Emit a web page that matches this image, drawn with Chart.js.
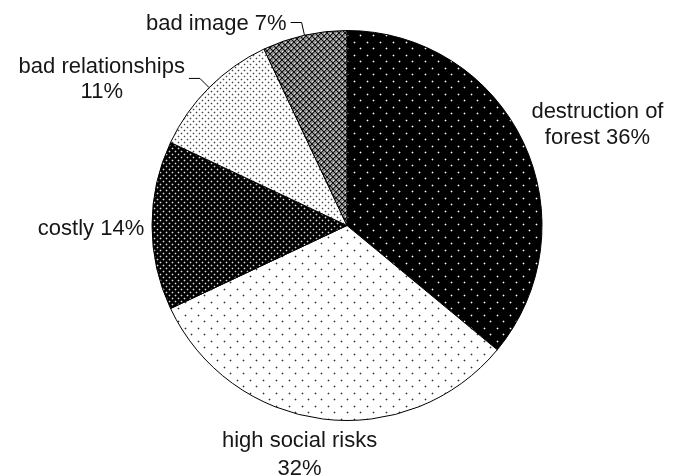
<!DOCTYPE html>
<html>
<head>
<meta charset="utf-8">
<script src="https://cdn.jsdelivr.net/npm/chart.js@4/dist/chart.umd.min.js"></script>
<style>
  html, body { margin: 0; padding: 0; background: #fff; }
  #wrap { width: 678px; height: 476px; }
</style>
</head>
<body>
<div id="wrap"><canvas id="c" width="678" height="476"></canvas></div>
<script>
// Reasons given, share of answers (%)
const categories = ['destruction of forest', 'high social risks', 'costly', 'bad relationships', 'bad image'];
const shares = [36, 32, 14, 11, 7];
// Number of words kept on the first label line (the rest goes to the second line)
const firstLineWords = [2, 3, 2, 2, 3];
// Slices whose label is joined to the pie by a leader line
const leaderSlices = [false, false, false, true, true];

const FONT = '22px "Liberation Sans", Arial, sans-serif';
const TEXT_COLOR = '#161616';

function labelLines(i) {
  const words = (categories[i] + ' ' + shares[i] + '%').split(' ');
  const n = firstLineWords[i];
  const first = words.slice(0, n).join(' ');
  const rest = words.slice(n).join(' ');
  return rest ? [first, rest] : [first];
}

// Tiled fill patterns, one per slice
function tile(w, h, bg, draw) {
  const c = document.createElement('canvas');
  c.width = w; c.height = h;
  const g = c.getContext('2d');
  g.fillStyle = bg;
  g.fillRect(0, 0, w, h);
  draw(g);
  return c;
}
function dot(g, x, y, core, halo) {
  g.fillStyle = halo;
  g.fillRect(x - 1, y, 3, 1);
  g.fillRect(x, y - 1, 1, 3);
  g.fillStyle = core;
  g.fillRect(x, y, 1, 1);
}
const ctx = document.getElementById('c').getContext('2d');
const tiles = [
  // sparse light dots on black
  tile(13, 13, '#000', g => { dot(g, 3, 3, '#fff', '#555'); dot(g, 9, 9, '#fff', '#555'); }),
  // sparse dark dots on white
  tile(13, 13, '#fff', g => { dot(g, 3, 3, '#333', '#bbb'); dot(g, 9, 9, '#333', '#bbb'); }),
  // dense light dots on black
  tile(6, 6, '#000', g => { dot(g, 1, 1, '#ddd', '#444'); dot(g, 4, 4, '#ddd', '#444'); }),
  // dense dark dots on white
  tile(6, 6, '#fff', g => { dot(g, 1, 1, '#444', '#ccc'); dot(g, 4, 4, '#444', '#ccc'); }),
  // grey diamond hatch
  tile(6, 6, '#8a8a8a', g => {
    g.fillStyle = '#111';
    for (let k = 0; k < 6; k++) { g.fillRect(k, k, 1, 1); g.fillRect(5 - k, k, 1, 1); }
    g.fillStyle = '#eee';
    g.fillRect(0, 3, 1, 1); g.fillRect(3, 0, 1, 1);
  })
];
const fills = tiles.map(t => ctx.createPattern(t, 'repeat'));

// Text placement relative to the rim point at each slice's middle angle
// (dx, dy) = offset of the label block centre for slices without a leader line
const labelOffsets = [[74, -19], [-23, 35], [-61, 2], null, null];
const LINE_H = [26, 28, 26, 25.5, 26];

const pieLabels = {
  id: 'pieLabels',
  afterDatasetsDraw(chart) {
    const g = chart.ctx;
    const arcs = chart.getDatasetMeta(0).data;
    g.save();
    g.font = FONT;
    g.fillStyle = TEXT_COLOR;
    g.textAlign = 'center';
    g.textBaseline = 'middle';
    const capMid = 1; // shift so that 'middle' sits on the cap-height centre
    arcs.forEach((arc, i) => {
      const { x, y, outerRadius, startAngle, endAngle } = arc.getProps(['x', 'y', 'outerRadius', 'startAngle', 'endAngle'], true);
      const mid = (startAngle + endAngle) / 2;
      const ux = Math.cos(mid), uy = Math.sin(mid);
      const rimX = x + outerRadius * ux, rimY = y + outerRadius * uy;
      const lines = labelLines(i);
      const lh = LINE_H[i];
      const widths = lines.map(s => g.measureText(s).width);
      const blockW = Math.max(...widths);
      let cx, cy;
      if (leaderSlices[i]) {
        const ex = x + (outerRadius + 13) * ux, ey = y + (outerRadius + 13) * uy;
        const endX = ex - 11;
        g.strokeStyle = '#000';
        g.lineWidth = 1;
        g.beginPath();
        g.moveTo(rimX, rimY);
        g.lineTo(ex, ey);
        g.lineTo(endX, ey);
        g.stroke();
        cx = endX - 4 - blockW / 2;
        cy = ey;
      } else {
        cx = rimX + labelOffsets[i][0];
        cy = rimY + labelOffsets[i][1];
      }
      const top = cy - (lines.length - 1) * lh / 2;
      lines.forEach((s, k) => g.fillText(s, cx, top + k * lh + capMid));
    });
    g.restore();
  }
};

new Chart(ctx, {
  type: 'pie',
  data: {
    labels: categories,
    datasets: [{
      data: shares,
      backgroundColor: fills,
      borderColor: '#000',
      borderWidth: 1
    }]
  },
  options: {
    responsive: false,
    animation: false,
    layout: { padding: { top: 30, bottom: 55, left: 100, right: 84 } },
    plugins: {
      legend: { display: false },
      tooltip: { enabled: false }
    }
  },
  plugins: [pieLabels]
});
</script>
</body>
</html>
